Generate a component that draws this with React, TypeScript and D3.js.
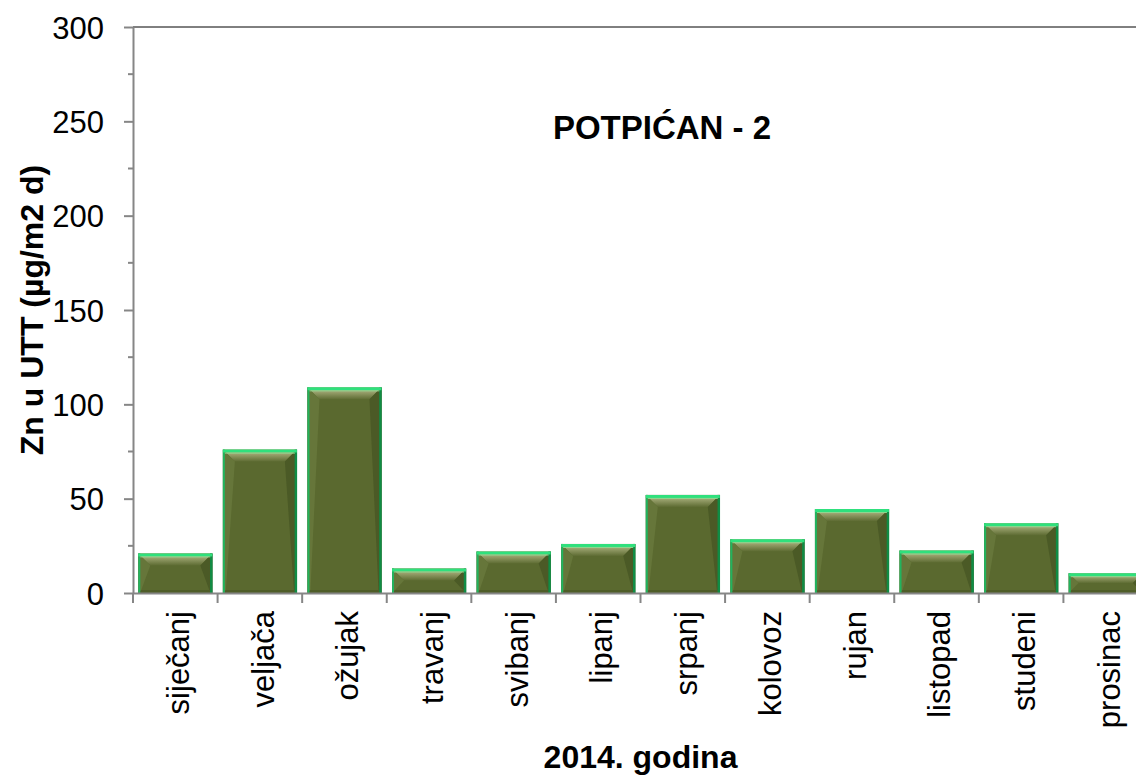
import React, { useEffect, useRef } from 'react';
import * as d3 from 'd3';

// Monthly Zn deposition, Potpićan - 2, 2014
const months = ['siječanj', 'veljača', 'ožujak', 'travanj', 'svibanj', 'lipanj', 'srpanj', 'kolovoz', 'rujan', 'listopad', 'studeni', 'prosinac'];
const znValues = [21, 76, 109, 13, 22, 26, 52, 28.5, 44.5, 22.5, 37, 10.5];
const yTicks = [0, 50, 100, 150, 200, 250, 300];
const yMinorTicks = [25, 75, 125, 175, 225, 275];

const chartTitle = 'POTPIĆAN - 2';
const yTitle = 'Zn u UTT (µg/m2 d)';
const xTitle = '2014. godina';

const W = 1136;
const H = 778;
const FONT = 'Liberation Sans, Arial, sans-serif';

const App: React.FC = () => {
  const svgRef = useRef<SVGSVGElement>(null);

  useEffect(() => {
    if (!svgRef.current) return;
    const margin = { top: 27, left: 133 };
    const width = 1015;
    const height = 566;

    const root = d3.select(svgRef.current);
    root.selectAll('*').remove();

    const defs = root.append('defs');
    const topGrad = defs.append('linearGradient').attr('id', 'bevelTop').attr('x1', 0).attr('y1', 0).attr('x2', 0).attr('y2', 1);
    topGrad.append('stop').attr('offset', '0%').attr('stop-color', '#bfc392');
    topGrad.append('stop').attr('offset', '100%').attr('stop-color', '#5e6c33');

    const svg = root.append('g').attr('transform', `translate(${margin.left},${margin.top})`);

    const x = d3.scaleBand().domain(months).range([0, width]).paddingInner(0.125).paddingOuter(0.0625);
    const xCat = d3.scaleBand().domain(months).range([0, width]).padding(0);
    const y = d3.scaleLinear().domain([0, 300]).range([height, 0]);

    // top frame line
    svg.append('line')
      .attr('x1', 0).attr('x2', width).attr('y1', 0).attr('y2', 0)
      .attr('stroke', '#000').attr('stroke-width', 1);

    // bars
    const bars = svg.selectAll('g.bar')
      .data(znValues)
      .enter().append('g')
      .attr('class', 'bar')
      .attr('transform', (d, i) => `translate(${x(months[i])},${y(d)})`);

    const bw = x.bandwidth();
    bars.append('rect')
      .attr('width', bw)
      .attr('height', d => height - y(d))
      .attr('fill', '#5a692f');

    // bevel: top
    bars.append('path')
      .attr('d', d => {
        const h = height - y(d);
        const b = Math.min(12, h / 2);
        return `M0,0 L${bw},0 L${bw - b},${b} L${b},${b} Z`;
      })
      .attr('fill', 'url(#bevelTop)');
    // bevel: right (darker)
    bars.append('path')
      .attr('d', d => {
        const h = height - y(d);
        const b = Math.min(12, h / 2);
        return `M${bw},0 L${bw},${h} L${bw - 3},${h - 3} L${bw - b},${b} Z`;
      })
      .attr('fill', '#4b5a26');
    // bevel: left (slightly lighter)
    bars.append('path')
      .attr('d', d => {
        const h = height - y(d);
        const b = Math.min(12, h / 2);
        return `M0,0 L${b},${b} L3,${h - 3} L0,${h} Z`;
      })
      .attr('fill', '#66763a');
    // bevel: bottom
    bars.append('path')
      .attr('d', d => {
        const h = height - y(d);
        return `M0,${h} L3,${h - 3} L${bw - 3},${h - 3} L${bw},${h} Z`;
      })
      .attr('fill', '#4f5d28');

    // green edges
    bars.append('line')
      .attr('x1', 1).attr('x2', 1).attr('y1', 0).attr('y2', d => height - y(d))
      .attr('stroke', '#22b35e').attr('stroke-width', 2);
    bars.append('line')
      .attr('x1', bw - 1).attr('x2', bw - 1).attr('y1', 0).attr('y2', d => height - y(d))
      .attr('stroke', '#108c45').attr('stroke-width', 2.5);
    bars.append('line')
      .attr('x1', 0).attr('x2', bw).attr('y1', 1.5).attr('y2', 1.5)
      .attr('stroke', '#2fe07d').attr('stroke-width', 3);
    bars.append('line')
      .attr('x1', 2).attr('x2', bw - 2).attr('y1', 3.5).attr('y2', 3.5)
      .attr('stroke', '#8fd890').attr('stroke-width', 1);

    // y axis
    const yAxis = svg.append('g')
      .call(d3.axisLeft(y).tickValues(yTicks).tickSize(9).tickPadding(20).tickSizeOuter(0));
    yAxis.select('.domain').attr('stroke', '#868686').attr('stroke-width', 2);
    yAxis.selectAll('.tick line').attr('stroke', '#868686').attr('stroke-width', 2);
    yAxis.selectAll('.tick text')
      .attr('font-family', FONT)
      .attr('font-size', 31)
      .attr('fill', '#000')
      .attr('dy', '0.36em');

    svg.append('g')
      .selectAll('line')
      .data(yMinorTicks)
      .enter().append('line')
      .attr('x1', -5).attr('x2', 0)
      .attr('y1', d => y(d)).attr('y2', d => y(d))
      .attr('stroke', '#868686').attr('stroke-width', 2);

    // x axis
    const xAxis = svg.append('g')
      .attr('transform', `translate(0,${height})`)
      .call(d3.axisBottom(xCat).tickSize(0).tickPadding(0).tickSizeOuter(0));
    xAxis.select('.domain').attr('stroke', '#868686').attr('stroke-width', 2);
    xAxis.selectAll('.tick text')
      .attr('font-family', FONT)
      .attr('font-size', 31)
      .attr('fill', '#000')
      .attr('text-anchor', 'end')
      .attr('transform', 'translate(0,18) rotate(-90)')
      .attr('x', 0)
      .attr('y', 0)
      .attr('dy', '0.45em');

    // category boundary ticks
    xAxis.append('g')
      .selectAll('line')
      .data(months)
      .enter().append('line')
      .attr('x1', d => xCat(d) as number).attr('x2', d => xCat(d) as number)
      .attr('y1', 0).attr('y2', 10)
      .attr('stroke', '#868686').attr('stroke-width', 2);

    // titles
    root.append('text')
      .attr('x', 662).attr('y', 139)
      .attr('text-anchor', 'middle')
      .attr('font-family', FONT)
      .attr('font-weight', 'bold')
      .attr('font-size', 33)
      .text(chartTitle);

    root.append('text')
      .attr('transform', `translate(43,${margin.top + height / 2}) rotate(-90)`)
      .attr('text-anchor', 'middle')
      .attr('font-family', FONT)
      .attr('font-weight', 'bold')
      .attr('font-size', 32)
      .text(yTitle);

    root.append('text')
      .attr('x', margin.left + width / 2).attr('y', 768)
      .attr('text-anchor', 'middle')
      .attr('font-family', FONT)
      .attr('font-weight', 'bold')
      .attr('font-size', 32)
      .text(xTitle);
  }, []);

  return (
    <div style={{ position: 'absolute', left: 0, top: 0 }}>
      <svg ref={svgRef} width={W} height={H} style={{ display: 'block', background: '#fff' }} />
    </div>
  );
};

export default App;
